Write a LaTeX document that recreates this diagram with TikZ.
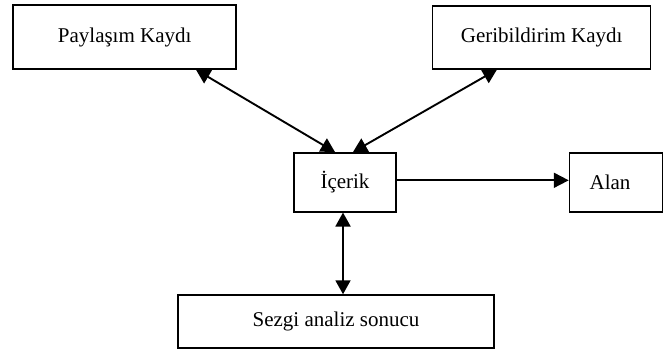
\documentclass[tikz,border=0pt]{standalone}
\usepackage{fontspec}
\setmainfont{Liberation Serif}
\usetikzlibrary{arrows.meta}
\begin{document}
\begin{tikzpicture}[x=1pt,y=1pt,
  box/.style={draw=black,line width=1.5pt,fill=white,rectangle,inner sep=0pt,
    font=\fontsize{21}{25}\selectfont},
  link/.style={line width=1.9pt,{Triangle[length=14pt,width=15pt]}-{Triangle[length=14pt,width=15pt]}},
  onelink/.style={line width=1.9pt,-{Triangle[length=15pt,width=15pt]}}]
\useasboundingbox (0,0) rectangle (664,-349);
\node[box,minimum width=223pt,minimum height=64pt] (P) at (124.7,-37) {Paylaşım Kaydı};
\node[box,minimum width=218pt,minimum height=63pt] (G) at (541.7,-37.3) {Geribildirim Kaydı};
\node[box,minimum width=102pt,minimum height=59pt] (I) at (345,-182.3) {İçerik};
\node[box,minimum width=93pt,minimum height=59pt] (A) at (616,-182.5) {Alan\hspace{12pt}\null};
\node[box,minimum width=316pt,minimum height=53pt] (S) at (336,-321.5) {Sezgi analiz sonucu};
\draw[link] ([xshift=71.3pt]P.south) -- ([xshift=-10pt]I.north);
\draw[link] ([xshift=-44.7pt]G.south) -- ([xshift=8pt]I.north);
\draw[onelink] ([yshift=2pt]I.east) -- ([yshift=2pt]I.east -| A.west);
\draw[link] ([xshift=-2pt]I.south) -- ([xshift=-2pt]I.south |- S.north);
\end{tikzpicture}
\end{document}
